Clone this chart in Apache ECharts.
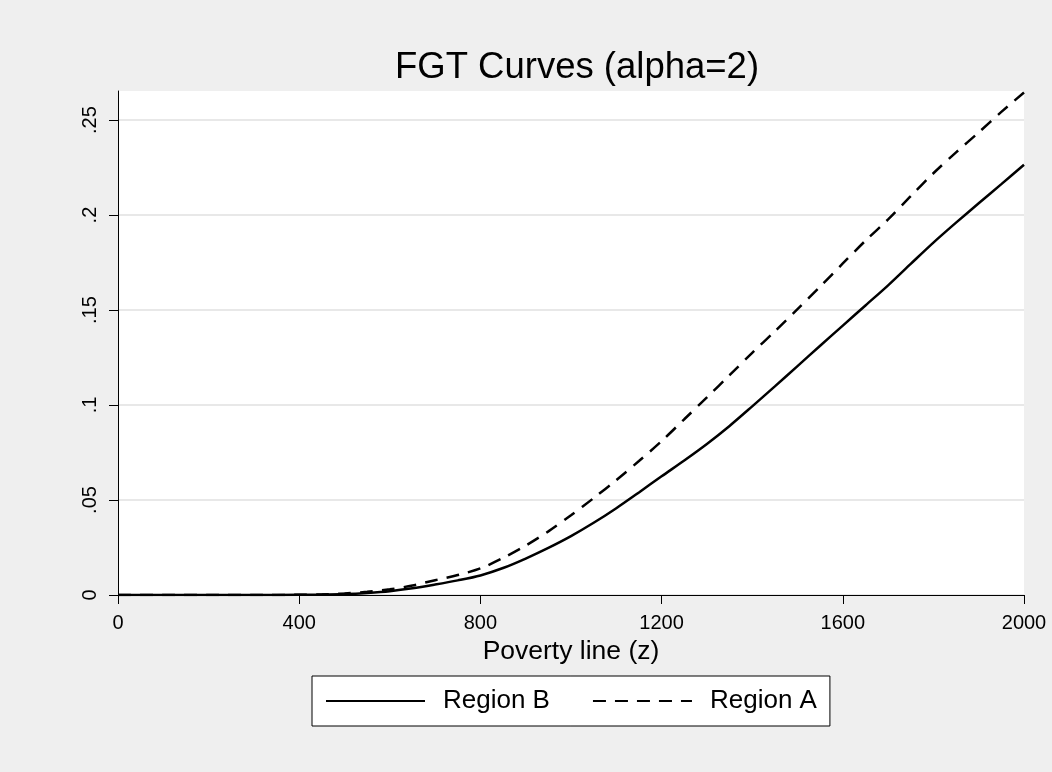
<!DOCTYPE html>
<html>
<head>
<meta charset="utf-8">
<script src="https://cdn.jsdelivr.net/npm/echarts@6/dist/echarts.min.js"></script>
<style>
    html, body { margin: 0; padding: 0; background: #efefef; }
    #fgt { width: 1052px; height: 772px; }
</style>
</head>
<body>
<div id="fgt"></div>
<script>
// poverty line z and FGT(alpha=2) values
var povertyLine = [0, 100, 200, 300, 400, 450, 500, 550, 600, 650, 700, 750, 800, 850, 900, 950,
    1000, 1050, 1100, 1150, 1200, 1250, 1300, 1350, 1400, 1450, 1500, 1550, 1600, 1650,
    1700, 1750, 1800, 1850, 1900, 1950, 2000];
var regionB = [0, 0, 0, 0, 0.0001, 0.0002, 0.0005, 0.0011, 0.002, 0.0035, 0.0055, 0.0077, 0.0103,
    0.0142, 0.0192, 0.0248, 0.031, 0.038, 0.0457, 0.054, 0.0625, 0.0708, 0.0795, 0.089, 0.0993,
    0.1098, 0.1205, 0.1312, 0.1418, 0.1524, 0.163, 0.1743, 0.1855, 0.196, 0.2062, 0.2163, 0.2265];
var regionA = [0, 0, 0, 0, 0.0001, 0.0003, 0.0008, 0.0017, 0.003, 0.005, 0.0078, 0.0105, 0.014,
    0.0195, 0.026, 0.0335, 0.042, 0.051, 0.0605, 0.0705, 0.081, 0.0925, 0.104, 0.1157, 0.1275,
    0.1388, 0.1505, 0.1623, 0.1745, 0.1865, 0.1977, 0.21, 0.222, 0.233, 0.2435, 0.2543, 0.2645];
var yTicks = [0, 0.05, 0.1, 0.15, 0.2, 0.25];

function pairs(ys) {
    return povertyLine.map(function (z, i) { return [z, ys[i]]; });
}

var font = "'Liberation Sans', Arial, sans-serif";
var myChart = echarts.init(document.getElementById('fgt'));

var option = {
    backgroundColor: '#efefef',
    animation: false,
    textStyle: { fontFamily: font },
    title: {
        text: 'FGT Curves (alpha=2)',
        left: 572,
        top: 44,
        textAlign: 'center',
        textStyle: { fontFamily: font, fontSize: 36.5, fontWeight: 'normal', color: '#000' }
    },
    grid: {
        left: 118,
        right: 28,
        top: 91,
        bottom: 177,
        show: true,
        backgroundColor: '#fff',
        borderWidth: 0
    },
    legend: {
        left: 312,
        top: 676,
        padding: [12, 13],
        itemWidth: 99,
        itemHeight: 14,
        itemGap: 42,
        backgroundColor: '#fff',
        borderColor: '#000',
        borderWidth: 1,
        borderRadius: 0,
        itemStyle: { opacity: 0 },
        textStyle: { fontFamily: font, fontSize: 26, color: '#000', padding: [0, 0, 0, 13] },
        data: ['Region B', 'Region A']
    },
    xAxis: {
        type: 'value',
        min: 0,
        max: 2000,
        interval: 400,
        name: 'Poverty line (z)',
        nameLocation: 'middle',
        nameGap: 40,
        nameTextStyle: { fontFamily: font, fontSize: 26.5, color: '#000' },
        axisLine: { show: true, lineStyle: { color: '#000', width: 1 } },
        axisTick: { show: true, length: 9, lineStyle: { color: '#000' } },
        axisLabel: {
            fontFamily: font, fontSize: 20, color: '#000', margin: 18,
            formatter: function (v) { return String(v); }
        },
        splitLine: { show: false }
    },
    yAxis: {
        type: 'value',
        min: 0,
        max: 0.2653,
        axisLine: { show: true, lineStyle: { color: '#000', width: 1 } },
        axisTick: { show: true, length: 9, lineStyle: { color: '#000' }, customValues: yTicks },
        axisLabel: {
            fontFamily: font, fontSize: 20, color: '#000', margin: 18, rotate: 90,
            customValues: yTicks,
            formatter: function (v) {
                return v === 0 ? '0' : String(+v.toFixed(2)).replace(/^0/, '');
            }
        },
        splitLine: { show: true, lineStyle: { color: '#e8e8e8', width: 2 } }
    },
    series: [
        {
            name: 'Region B',
            type: 'line',
            symbol: 'none',
            smooth: 0.3,
            lineStyle: { color: '#000', width: 2.5, type: 'solid' },
            itemStyle: { color: '#000' },
            data: pairs(regionB)
        },
        {
            name: 'Region A',
            type: 'line',
            symbol: 'none',
            smooth: 0.3,
            lineStyle: { color: '#000', width: 2.5, type: [13, 9] },
            itemStyle: { color: '#000' },
            data: pairs(regionA)
        }
    ]
};

myChart.setOption(option);
</script>
</body>
</html>
